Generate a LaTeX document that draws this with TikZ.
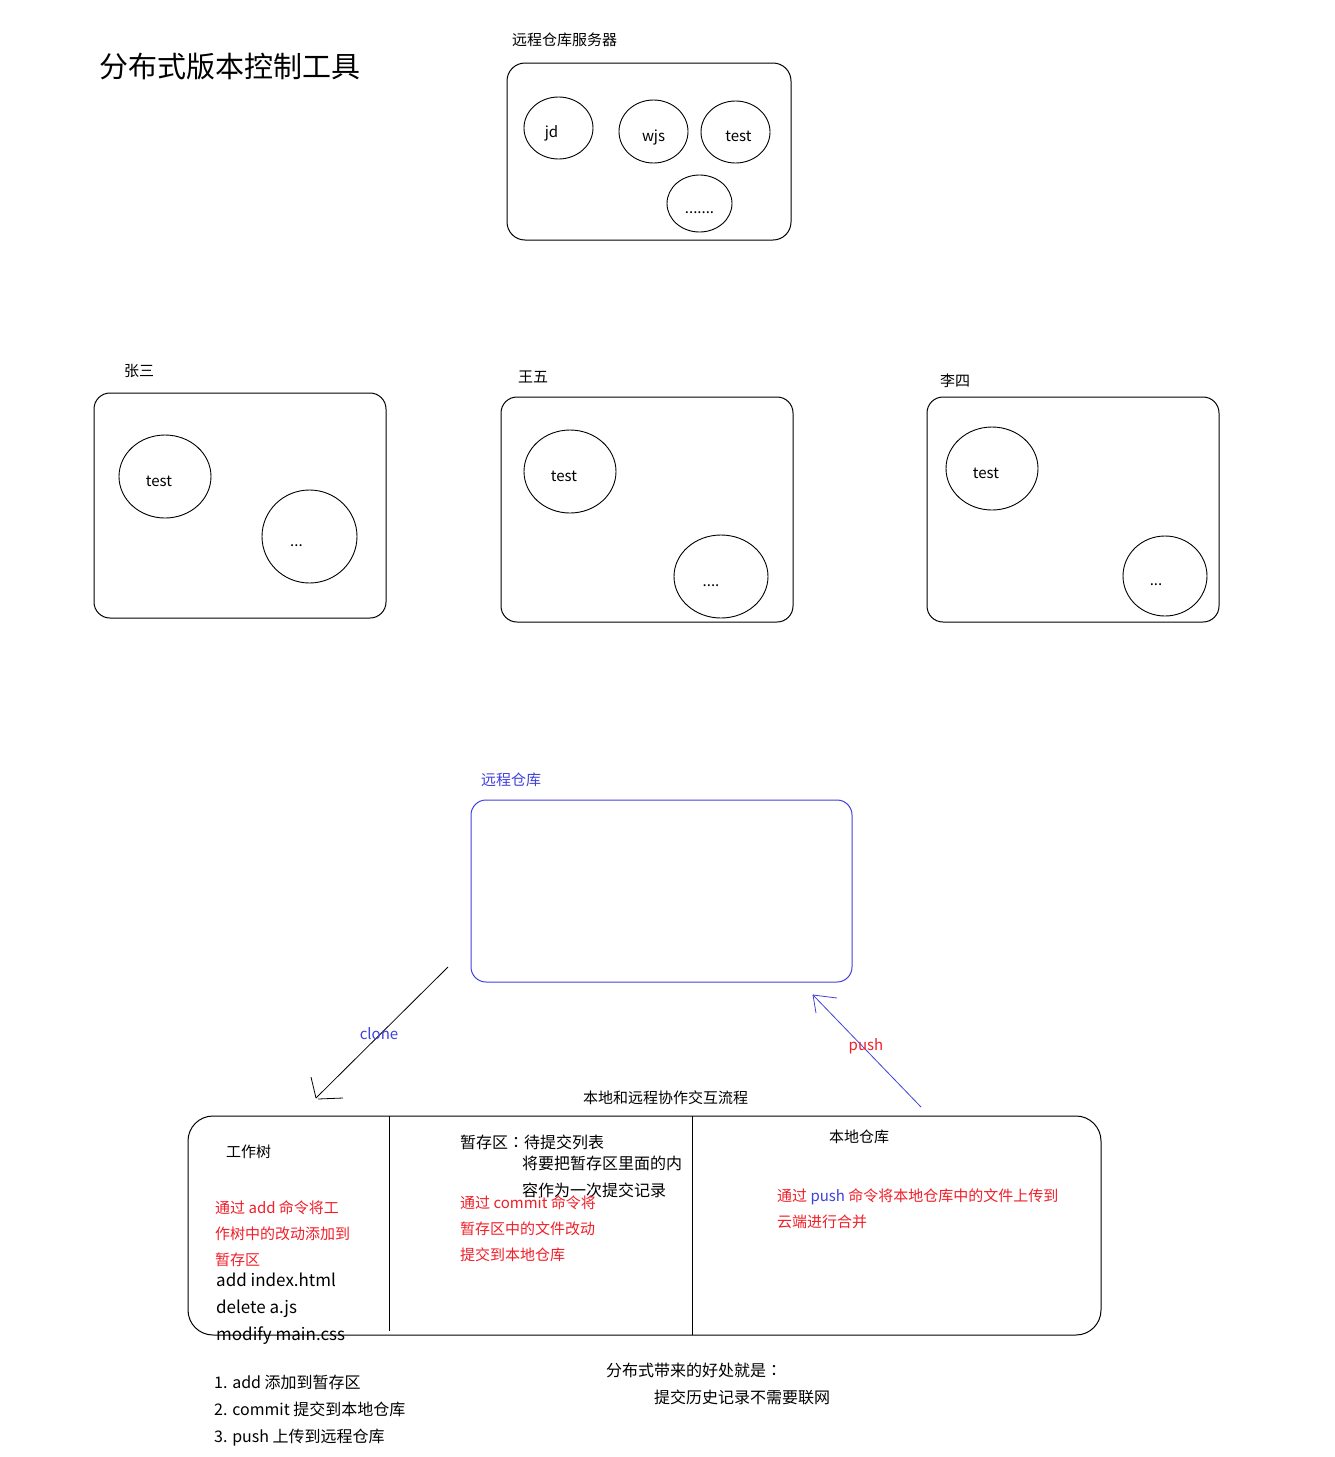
\documentclass[tikz,border=0pt]{standalone}
\usepackage{fontspec}
\setmainfont{Noto Sans CJK SC}
\newfontfamily\colonfont{Noto Sans CJK JP}
\usepackage{xcolor}
\usetikzlibrary{shapes.geometric, arrows}
\usetikzlibrary{positioning, calc}
\definecolor{remoteblue}{RGB}{64,64,220}
\definecolor{notered}{RGB}{240,30,40}
\newcommand{\wcolon}{{\colonfont ：}}
\tikzstyle{repobox} = [rectangle, rounded corners=18pt, draw=black, line width=1pt]
\tikzstyle{proj} = [draw, ellipse, inner sep=0pt, line width=0.9pt, text height=19pt, text depth=0pt, font=\fontsize{15}{18}\selectfont]
\tikzstyle{txt} = [inner sep=0pt, anchor=west, font=\fontsize{15}{18}\selectfont]
\tikzstyle{note} = [inner sep=0pt, anchor=north west, align=left, text=notered, font=\fontsize{15}{26}\selectfont]
\tikzstyle{work} = [inner sep=0pt, anchor=north west, align=left, font=\fontsize{16}{27}\selectfont]

\begin{document}
\begin{tikzpicture}[x=1pt,y=-1pt]
        \useasboundingbox (0,0) rectangle (1335,1457);
        % title
        \node (title) [txt, font=\fontsize{29}{32}\selectfont] at (99,67) {分布式版本控制工具};
        % remote server
        \node (srvlbl) [txt] at (512,40) {远程仓库服务器};
        \node (srv) [repobox, minimum width=284pt, minimum height=177pt] at (649,151.5) {};
        \node (jd) [proj, minimum width=69pt, minimum height=62pt] at (558.5,128) {jd\kern14pt};
        \node (wjs) [proj, minimum width=69pt, minimum height=63pt] at (653.5,131.5) {wjs};
        \node (srvtest) [proj, minimum width=69pt, minimum height=62pt] at (735.5,132) {\kern6pt test};
        \node (srvmore) [proj, minimum width=65pt, minimum height=57pt] at (699.5,203.5) {.......};

        % clients: zhangsan, wangwu, lisi
        \node (zslbl) [txt] at (124,371) {张三};
        \node (zs) [repobox, rounded corners=16pt, minimum width=292pt, minimum height=225pt] at (240,505.5) {};
        \node (zstest) [proj, minimum width=92pt, minimum height=83pt] at (165,476.5) {test\kern12pt};
        \node (zsmore) [proj, minimum width=95pt, minimum height=93pt] at (309.5,536.5) {...\kern26pt};

        \node (wwlbl) [txt] at (518,377) {王五};
        \node (ww) [repobox, rounded corners=16pt, minimum width=292pt, minimum height=225pt] at (647,509.5) {};
        \node (wwtest) [proj, minimum width=92pt, minimum height=83pt] at (570,471.5) {test\kern12pt};
        \node (wwmore) [proj, minimum width=94pt, minimum height=83pt] at (721,576.5) {....\kern20pt};

        \node (lslbl) [txt] at (940,381) {李四};
        \node (ls) [repobox, rounded corners=16pt, minimum width=292pt, minimum height=225pt] at (1073,509.5) {};
        \node (lstest) [proj, minimum width=92pt, minimum height=83pt] at (992,468.5) {test\kern12pt};
        \node (lsmore) [proj, minimum width=84pt, minimum height=80pt] at (1165,576) {...\kern18pt};

        % remote repo
        \node (remlbl) [txt, text=remoteblue] at (481,780) {远程仓库};
        \node (remote) [repobox, draw=remoteblue, rounded corners=15pt, minimum width=381pt, minimum height=182pt] at (661.5,891) {};

        % clone and push
        \coordinate (cloneS) at (448,967);
        \coordinate (cloneE) at (316,1098);
        \draw [line width=0.8pt] (cloneS) -- (cloneE);
        \draw [line width=0.8pt] (cloneE) -- ++(-5,-21);
        \draw [line width=0.8pt] (cloneE) ++(2,1) -- ++(25,-1);
        \node (clone) [txt, anchor=center, text=remoteblue] at (379,1034) {clone};

        \coordinate (pushS) at (921,1107);
        \coordinate (pushE) at (813,995);
        \draw [remoteblue, line width=0.8pt] (pushS) -- (pushE);
        \draw [remoteblue, line width=0.8pt] (pushE) -- ++(24,3);
        \draw [remoteblue, line width=0.8pt] (pushE) -- ++(3,18);
        \node (push) [txt, anchor=center, text=notered] at (866,1046) {push};

        % local flow
        \node (flowlbl) [txt] at (583,1098) {本地和远程协作交互流程};
        \node (flow) [repobox, rounded corners=25pt, minimum width=913pt, minimum height=219pt] at (644.5,1225.5) {};
        \draw [line width=1pt] (389,1116) -- (389,1331);
        \draw [line width=1pt] (692,1116) -- (692,1335);

        % working tree
        \node (wt) [txt] at (226,1152) {工作树};
        \node (wtnote) [note] at (215,1200.5) {通过 add 命令将工\\作树中的改动添加到\\暂存区};
        \node (wtfiles) [work, font=\fontsize{17}{27}\selectfont] at (216,1272.5) {add index.html\\delete a.js\\modify main.css};

        % stage
        \node (stage) [txt, font=\fontsize{16}{18}\selectfont] at (460,1142) {暂存区\wcolon 待提交列表};
        \node (stagedesc) [work] at (522,1156) {将要把暂存区里面的内\\容作为一次提交记录};
        \node (stagenote) [note] at (460,1195.5) {通过 commit 命令将\\暂存区中的文件改动\\提交到本地仓库};

        % local repo
        \node (local) [txt] at (829,1137) {本地仓库};
        \node (localnote) [note] at (777,1188.5) {通过 \textcolor{remoteblue}{push} 命令将本地仓库中的文件上传到\\云端进行合并};

        % summary
        \node (steps) [work] at (214,1375) {1. add 添加到暂存区\\2. commit 提交到本地仓库\\3. push 上传到远程仓库};
        \node (gain) [txt, font=\fontsize{16}{18}\selectfont] at (606,1370) {分布式带来的好处就是\wcolon};
        \node (gaindesc) [txt, font=\fontsize{16}{18}\selectfont] at (654,1397) {提交历史记录不需要联网};
\end{tikzpicture}
\end{document}
